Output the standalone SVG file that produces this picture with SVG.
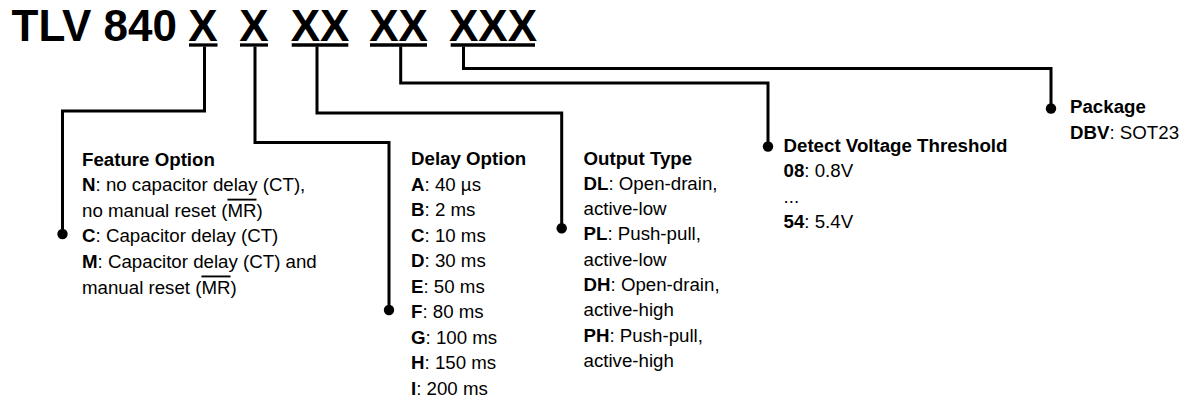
<svg xmlns="http://www.w3.org/2000/svg" width="1179" height="402" viewBox="0 0 1179 402">
<style>
text{font-family:"Liberation Sans",Arial,sans-serif;fill:#000}
.t{font-size:44px;font-weight:bold}
.b{font-size:18.7px}
.h{font-weight:bold}
.k{font-weight:bold}
.ov{text-decoration:overline}
.ul{stroke:#000;stroke-width:3.3;fill:none}
.c{stroke:#000;stroke-width:3;fill:none;stroke-linejoin:miter;marker-end:url(#dot)}
</style>
<defs>
<marker id="dot" markerUnits="userSpaceOnUse" markerWidth="12" markerHeight="12" refX="6" refY="6" viewBox="0 0 12 12">
<circle cx="6" cy="6" r="5.2" fill="#000"/>
</marker>
</defs>
<rect width="1179" height="402" fill="#fff"/>
<g id="title">
<text class="t" x="11.5" y="41">TLV 840</text>
<text class="t" x="203" y="41" text-anchor="middle">X</text>
<text class="t" x="254" y="41" text-anchor="middle">X</text>
<text class="t" x="320" y="41" text-anchor="middle">XX</text>
<text class="t" x="398.5" y="41" text-anchor="middle">XX</text>
<text class="t" x="493" y="41" text-anchor="middle">XXX</text>
<line class="ul" x1="189" y1="45" x2="217.5" y2="45"/>
<line class="ul" x1="240" y1="45" x2="268" y2="45"/>
<line class="ul" x1="291.7" y1="45" x2="348.3" y2="45"/>
<line class="ul" x1="370" y1="45" x2="427" y2="45"/>
<line class="ul" x1="450.7" y1="45" x2="535" y2="45"/>
</g>
<g id="connectors">
<path class="c" d="M204.5 46.5 V111 H62.5 V234"/>
<path class="c" d="M255 46.5 V142.5 H389 V310"/>
<path class="c" d="M317 46.5 V113 H561.7 V228.3"/>
<path class="c" d="M400.7 46.5 V83 H768 V146.5"/>
<path class="c" d="M463.5 46.5 V68.5 H1051 V108.5"/>
</g>
<g id="feature-option" class="b">
<text class="b h" x="82" y="165.5">Feature Option</text>
<text class="b" x="82" y="191.1"><tspan class="k">N</tspan>: no capacitor delay (CT),</text>
<text class="b" x="82" y="216.7">no manual reset (<tspan class="ov">MR</tspan>)</text>
<text class="b" x="82" y="242.3"><tspan class="k">C</tspan>: Capacitor delay (CT)</text>
<text class="b" x="82" y="267.9"><tspan class="k">M</tspan>: Capacitor delay (CT) and</text>
<text class="b" x="82" y="293.5">manual reset (<tspan class="ov">MR</tspan>)</text>
</g>
<g id="delay-option">
<text class="b h" x="411" y="165.3">Delay Option</text>
<text class="b" x="411" y="190.8"><tspan class="k">A</tspan>: 40 µs</text>
<text class="b" x="411" y="216.3"><tspan class="k">B</tspan>: 2 ms</text>
<text class="b" x="411" y="241.8"><tspan class="k">C</tspan>: 10 ms</text>
<text class="b" x="411" y="267.3"><tspan class="k">D</tspan>: 30 ms</text>
<text class="b" x="411" y="292.8"><tspan class="k">E</tspan>: 50 ms</text>
<text class="b" x="411" y="318.3"><tspan class="k">F</tspan>: 80 ms</text>
<text class="b" x="411" y="343.8"><tspan class="k">G</tspan>: 100 ms</text>
<text class="b" x="411" y="369.3"><tspan class="k">H</tspan>: 150 ms</text>
<text class="b" x="411" y="394.8"><tspan class="k">I</tspan>: 200 ms</text>
</g>
<g id="output-type">
<text class="b h" x="583.5" y="164.5">Output Type</text>
<text class="b" x="583.5" y="189.8"><tspan class="k">DL</tspan>: Open-drain,</text>
<text class="b" x="583.5" y="215.1">active-low</text>
<text class="b" x="583.5" y="240.4"><tspan class="k">PL</tspan>: Push-pull,</text>
<text class="b" x="583.5" y="265.7">active-low</text>
<text class="b" x="583.5" y="291">
<tspan class="k">DH</tspan>: Open-drain,</text>
<text class="b" x="583.5" y="316.3">active-high</text>
<text class="b" x="583.5" y="341.6"><tspan class="k">PH</tspan>: Push-pull,</text>
<text class="b" x="583.5" y="366.9">active-high</text>
</g>
<g id="detect-voltage-threshold">
<text class="b h" x="783.5" y="151.5">Detect Voltage Threshold</text>
<text class="b" x="783.5" y="177"><tspan class="k">08</tspan>: 0.8V</text>
<text class="b" x="783.5" y="202.5">...</text>
<text class="b" x="783.5" y="228"><tspan class="k">54</tspan>: 5.4V</text>
</g>
<g id="package">
<text class="b h" x="1070" y="113.3">Package</text>
<text class="b" x="1070" y="138.5"><tspan class="k">DBV</tspan>: SOT23</text>
</g>
</svg>
